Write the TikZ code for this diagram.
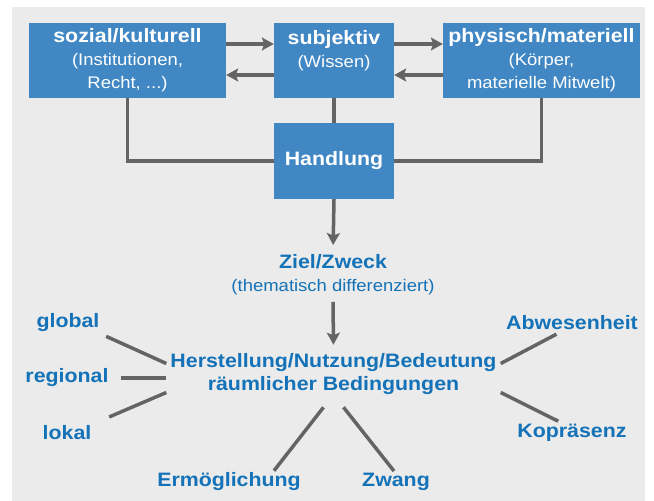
\documentclass[tikz,border=0pt]{standalone}
\usepackage{fontspec}
\setmainfont{Liberation Sans}[FakeStretch=1.1]
\usetikzlibrary{arrows.meta}
\definecolor{boxblue}{RGB}{64,135,196}
\definecolor{textblue}{RGB}{20,114,184}
\definecolor{linegray}{RGB}{100,100,100}
\definecolor{bggray}{RGB}{235,235,235}
\newcommand{\hd}{\fontsize{19.4}{23}\selectfont\bfseries}
\newcommand{\sm}{\fontsize{16.8}{23}\selectfont\mdseries}

\begin{document}
\begin{tikzpicture}[x=1pt,y=-1pt,
  box/.style={fill=boxblue, text=white, align=center, inner sep=0pt, minimum height=75pt, font=\sm},
  lab/.style={text=textblue, font=\hd, inner sep=2pt, align=center},
  arr/.style={line width=3.5pt, color=linegray, -{Stealth[length=12pt,width=13pt,inset=2.5pt]}},
  conn/.style={line width=3.5pt, color=linegray},
  spoke/.style={line width=3.5pt, color=linegray}]
  \useasboundingbox (0,0) rectangle (654,501);
  \fill[bggray] (12,7) rectangle (645,501);
  % top row
  \node[box, minimum width=197pt] (soz) at (127.5,60) {{\hd sozial/kulturell}\\(Institutionen,\\Recht, ...)};
  \node[box, minimum width=120pt] (subj) at (334,60) {{\hd subjektiv}\\(Wissen)\\\mbox{}};
  \node[box, minimum width=197pt] (phys) at (541.5,60) {{\hd physisch/materiell}\\(Körper,\\materielle Mitwelt)};
  \node[box, minimum width=120pt, minimum height=76pt] (hand) at (334,161) {\hd Handlung};
  \draw[arr] ([yshift=16pt]soz.east) -- ([yshift=16pt]subj.west);
  \draw[arr] ([yshift=-15pt]subj.west) -- ([yshift=-15pt]soz.east);
  \draw[arr] ([yshift=16pt]subj.east) -- ([yshift=16pt]phys.west);
  \draw[arr] ([yshift=-15pt]phys.west) -- ([yshift=-15pt]subj.east);
  \draw[conn] (soz.south) |- (hand.west);
  \draw[conn] (phys.south) |- (hand.east);
  \draw[conn] (subj.south) -- (hand.north);
  % goal
  \node[lab] (ziel) at (333,274.5) {Ziel/Zweck\\{\sm (thematisch differenziert)}};
  \draw[arr, shorten >=7pt] (hand.south) -- (ziel.north);
  \node[lab, inner sep=4pt] (herst) at (333.5,374.5) {Herstellung/Nutzung/Bedeutung\\räumlicher Bedingungen};
  \draw[arr, shorten <=5pt, shorten >=5pt] (ziel.south) -- (herst.north);
  % spatial conditions
  \node[lab] (glob) at (68,323) {global};
  \node[lab] (reg) at (67,378) {regional};
  \node[lab] (lok) at (67,433) {lokal};
  \node[lab] (abw) at (572,323) {Abwesenheit};
  \node[lab] (kop) at (572,433) {Kopräsenz};
  \node[lab] (erm) at (229,482) {Ermöglichung};
  \node[lab] (zw) at (396,482) {Zwang};
  \draw[spoke, shorten <=5pt] (glob.south east) -- ([yshift=11pt]herst.west);
  \draw[spoke, shorten <=10pt] (reg.east) -- (reg.east -| herst.west);
  \draw[spoke, shorten >=17pt] ([yshift=-18pt]herst.west) -- (lok.north east);
  \draw[spoke, shorten >=4pt] ([yshift=11pt]herst.east) -- ([xshift=-12pt]abw.south);
  \draw[spoke, shorten >=2pt] ([yshift=-18pt]herst.east) -- ([xshift=-12pt]kop.north);
  \draw[spoke] ([xshift=-10pt,yshift=-8pt]herst.south) -- ([xshift=45pt]erm.north);
  \draw[spoke] ([xshift=10pt,yshift=-8pt]herst.south) -- ([xshift=-2pt]zw.north);
\end{tikzpicture}
\end{document}
